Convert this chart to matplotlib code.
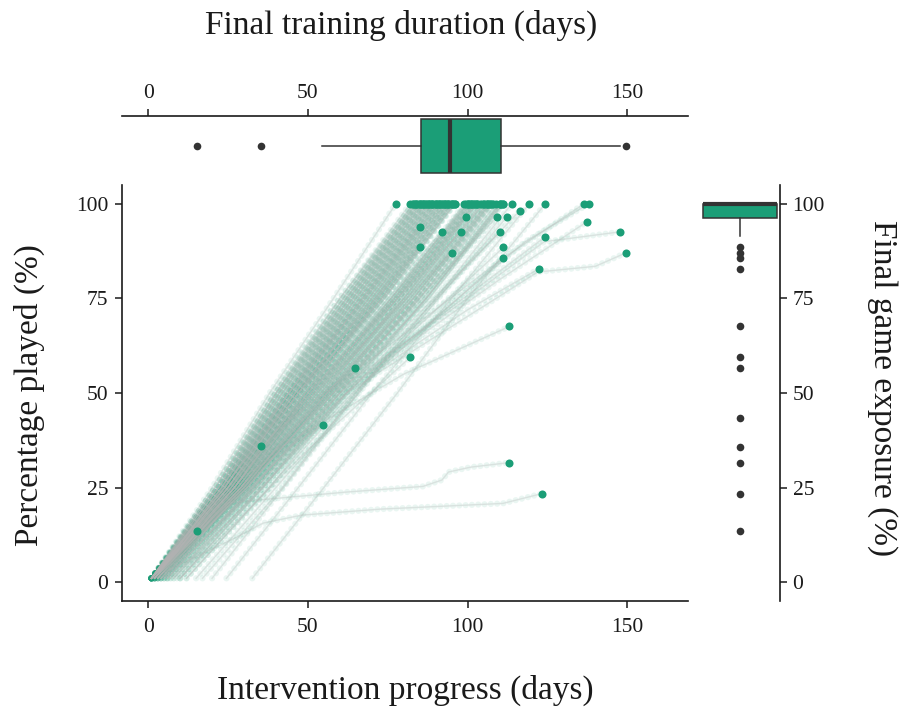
import matplotlib
matplotlib.use('Agg')
import matplotlib.pyplot as plt

plt.rcParams['font.family'] = ['Liberation Serif', 'DejaVu Serif']

green = '#1B9E77'
dark = '#333333'
txt = '#1a1a1a'

# participants who finished the game: day at which 1, 25, 50, 75 and 100 % were reached
fan_start = [1, 1, 1, 1, 1, 2, 1, 1, 1, 3, 1, 2, 1, 4, 1, 2, 1, 5, 1, 3, 1, 2, 1, 6, 1, 2,
             1, 4, 1, 3, 1, 2, 1, 5, 1, 2, 8, 1, 3, 1, 6, 2, 1, 10, 4, 2, 12, 5, 1, 17, 24.5,
             32.6, 1, 1, 2, 1, 1, 1, 2, 1, 1, 3, 1, 1, 2, 1, 1, 2, 1, 3, 1, 2, 1, 4, 1, 7]
fan_q1 = [20, 21, 21, 22, 22, 23, 22, 23, 24, 24, 23, 25, 24, 26, 25, 25, 23, 27, 24, 27, 25,
          27, 24, 29, 26, 27, 25, 28, 26, 29, 27, 29, 27, 30, 28, 30, 33, 28, 31, 29, 33, 30,
          29, 36, 33, 31, 38, 34, 30, 42, 47, 55, 21, 22, 23, 23, 24, 24, 25, 25, 26, 27, 26,
          27, 28, 27, 28, 29, 29, 31, 30, 31, 31, 34, 32, 36]
fan_mid = [38, 39, 40, 40, 41, 41, 42, 42, 43, 43, 44, 44, 45, 45, 46, 46, 44, 47, 45, 48, 47,
           49, 46, 50, 48, 50, 47, 51, 49, 52, 50, 53, 51, 54, 52, 55, 56, 53, 57, 54, 58, 56,
           55, 60, 59, 57, 62, 60, 58, 65, 70, 78, 40, 41, 42, 43, 44, 44, 45, 46, 47, 48, 47,
           49, 50, 49, 51, 52, 53, 55, 54, 56, 57, 59, 58, 61]
fan_q3 = [58, 60, 61, 62, 62, 63, 63, 64, 64, 65, 65, 66, 66, 67, 67, 68, 68, 69, 69, 70, 70,
          71, 71, 72, 72, 73, 73, 74, 74, 76, 76, 77, 77, 78, 78, 79, 80, 80, 81, 81, 82, 83,
          83, 84, 84, 86, 87, 87, 88, 90, 95, 100, 60, 61, 62, 63, 64, 65, 66, 67, 68, 69, 70,
          71, 72, 73, 75, 76, 78, 79, 80, 82, 83, 85, 85, 87]
fan_end = [77.5, 82, 83, 83.5, 84, 84.5, 85, 85.5, 86, 86.5, 87, 87.5, 88, 88.5, 89, 89.5, 90,
           90.5, 91, 91.5, 92, 92.5, 93, 93.5, 94, 94.5, 95, 95.5, 96, 99, 99.5, 100, 100.5, 101,
           101.5, 102, 102.5, 103, 104, 104.5, 105, 106, 106.5, 107, 107.5, 110, 110.5, 111,
           111.2, 113.8, 119.3, 124.3, 83, 84, 85, 86, 87, 88, 89, 90, 91, 92, 93, 94, 95, 96,
           100, 101, 102, 103, 105, 106, 107, 108, 109, 110]
fan_pcts = [1, 25, 50, 75, 100]

# other participants, read as waypoints (days, % played)
other_days = [
    [1, 44, 85], [2, 46, 85], [1, 47, 92], [3, 52, 95], [1, 50, 97.9], [2, 51, 99.4],
    [4, 56, 109.3], [6, 60, 110.2], [3, 62, 111.2], [8, 64, 111.2], [15, 66, 112.3],
    [10, 68, 116.3], [5, 40, 80, 113.1], [10, 50, 82], [2, 40, 64.8], [1, 30, 54.6],
    [1, 35.4], [1, 15.3],
    [1, 25, 62, 86, 92, 94, 101, 113.1],
    [1, 28, 36, 48, 72.8, 111, 123.3],
    [12, 70, 100, 122.4], [20, 75, 124.3], [6, 60, 110, 137.4],
    [4, 58, 100, 124, 147.6], [9, 62, 122, 140, 149.7],
    [3, 56, 110, 136.4], [7, 62, 118, 137.9],
]
other_pcts = [
    [1, 50, 94.0], [1, 50, 88.5], [1, 50, 92.7], [1, 50, 87.1], [1, 50, 92.7], [1, 50, 96.6],
    [1, 50, 96.6], [1, 50, 92.7], [1, 50, 88.5], [1, 50, 85.8], [1, 50, 96.6],
    [1, 55, 98.2], [1, 35, 55, 67.6], [1, 35, 59.4], [1, 40, 56.5], [1, 28, 41.5],
    [1, 35.9], [1, 13.5],
    [1, 21, 23.8, 25.3, 27, 29.1, 30.4, 31.6],
    [1, 12, 15.6, 17.7, 19.3, 20.8, 23.4],
    [1, 55, 72, 82.9], [1, 60, 91.3], [1, 50, 80, 95.3],
    [1, 50, 75, 90, 92.6], [1, 50, 82, 83.5, 87.1],
    [1, 50, 85, 100], [1, 50, 90, 100],
]

# box plot summaries
dur_box = dict(whislo=54.5, q1=85.5, med=94.5, q3=110.5, whishi=147.6,
               fliers=[15.3, 35.4, 149.7])
exp_box = dict(whislo=91.6, q1=96.3, med=100, q3=100, whishi=100,
               fliers=[88.5, 87.1, 85.8, 82.9, 67.6, 59.4, 56.5, 43.5, 35.8, 31.6, 23.4, 13.6])

paths = [(list(r), fan_pcts) for r in zip(fan_start, fan_q1, fan_mid, fan_q3, fan_end)]
paths += list(zip(other_days, other_pcts))

W, H = 903, 715
fig = plt.figure(figsize=(W / 100, H / 100), dpi=100)


def frac(x0, y0, x1, y1):
    return [x0 / W, 1 - y1 / H, (x1 - x0) / W, (y1 - y0) / H]


ax = fig.add_axes(frac(122, 185, 688, 601))
ax_top = fig.add_axes(frac(122, 116, 688, 176))
ax_r = fig.add_axes(frac(700, 185, 780, 601))

xlim = (-8.2, 169)
ylim = (-5, 105)

for d, p in paths:
    ax.plot(d, p, color='#b4b4b4', lw=1.0, alpha=0.3, zorder=2)
    ax.plot(d, p, color=green, lw=4.5, alpha=0.09, linestyle=(0, (0.01, 1.0)),
            dash_capstyle='round', zorder=1)
ax.plot([d[-1] for d, p in paths], [p[-1] for d, p in paths], 'o', color=green,
        ms=5.8, mec='none', zorder=4)

ax.set_xlim(xlim)
ax.set_ylim(ylim)
ax.set_xticks([0, 50, 100, 150])
ax.set_yticks([0, 25, 50, 75, 100])
for s in ['top', 'right']:
    ax.spines[s].set_visible(False)
for s in ['left', 'bottom']:
    ax.spines[s].set_linewidth(1.2)
    ax.spines[s].set_color(txt)
ax.tick_params(length=5, width=1.1, color=txt, labelsize=15.5, labelcolor=txt, pad=5)
ax.tick_params(axis='x', pad=7)

box_kw = dict(patch_artist=True, showcaps=False,
              boxprops=dict(facecolor=green, edgecolor=dark, lw=1.1),
              medianprops=dict(color=dark, lw=3),
              whiskerprops=dict(color=dark, lw=1.1),
              flierprops=dict(marker='o', markerfacecolor=dark, markeredgecolor='none',
                              markersize=5.5))

ax_top.bxp([dur_box], positions=[0.5], widths=0.9, orientation='horizontal', **box_kw)
ax_top.set_xlim(xlim)
ax_top.set_ylim(0, 1)
ax_top.xaxis.tick_top()
ax_top.set_xticks([0, 50, 100, 150])
ax_top.set_yticks([])
for s in ['bottom', 'left', 'right']:
    ax_top.spines[s].set_visible(False)
ax_top.spines['top'].set_linewidth(1.2)
ax_top.spines['top'].set_color(txt)
ax_top.tick_params(length=5, width=1.1, color=txt, labelsize=15.5, labelcolor=txt, pad=4)

ax_r.bxp([exp_box], positions=[0.5], widths=0.925, orientation='vertical', **box_kw)
ax_r.set_xlim(0, 1)
ax_r.set_ylim(ylim)
ax_r.yaxis.tick_right()
ax_r.set_yticks([0, 25, 50, 75, 100])
ax_r.set_xticks([])
for s in ['bottom', 'left', 'top']:
    ax_r.spines[s].set_visible(False)
ax_r.spines['right'].set_linewidth(1.2)
ax_r.spines['right'].set_color(txt)
ax_r.tick_params(length=5, width=1.1, color=txt, labelsize=15.5, labelcolor=txt, pad=4)

fig.text(401 / W, 1 - 25 / H, 'Final training duration (days)', ha='center', va='center',
         fontsize=24, color=txt)
fig.text(405 / W, 1 - 690 / H, 'Intervention progress (days)', ha='center', va='center',
         fontsize=24, color=txt)
fig.text(29 / W, 1 - 395 / H, 'Percentage played (%)', ha='center', va='center',
         rotation=90, fontsize=24, color=txt)
fig.text(882 / W, 1 - 388 / H, 'Final game exposure (%)', ha='center', va='center',
         rotation=270, fontsize=24, color=txt)

fig.savefig('out.png', dpi=100)
